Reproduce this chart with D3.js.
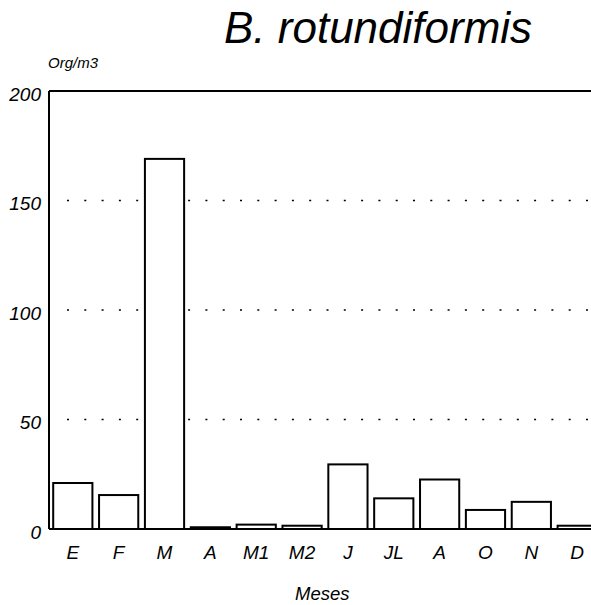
<!DOCTYPE html>
<html><head><meta charset="utf-8">
<script src="https://cdn.jsdelivr.net/npm/d3@7"></script>
<style>
html,body{margin:0;padding:0;background:#fff;}
svg{display:block;}
text{font-family:"Liberation Sans",Arial,sans-serif;font-style:italic;fill:#000;}
</style></head>
<body>
<script>
const categories = ["E","F","M","A","M1","M2","J","JL","A ","O","N","D"];
const values = [21,15.5,169,0.8,2,1.5,29.5,14,22.6,8.7,12.4,1.5];
const yTicks = [0,50,100,150,200];
const gridValues = [50,100,150];
const title = "B. rotundiformis";
const yLabel = "Org/m3";
const xLabel = "Meses";

const W = 591, H = 605;
const svg = d3.select("body").append("svg").attr("width", W).attr("height", H);

const x = d3.scaleBand().domain(categories).range([50, 600]).paddingInner(0.145).paddingOuter(0.07);
const y = d3.scaleLinear().domain([0,200]).range([529, 91]);

// grid (dotted)
svg.append("g").selectAll("line").data(gridValues).join("line")
  .attr("x1", 67).attr("x2", W)
  .attr("y1", d=>y(d)).attr("y2", d=>y(d))
  .attr("stroke", "#000").attr("stroke-width", 1.6)
  .attr("stroke-dasharray", "2,15.3");

// bars
svg.append("g").selectAll("rect").data(values).join("rect")
  .attr("x", (d,i)=>x(categories[i]))
  .attr("width", x.bandwidth())
  .attr("y", d=>y(d))
  .attr("height", d=>y(0)-y(d))
  .attr("fill", "#fff").attr("stroke", "#000").attr("stroke-width", 2);

// frame: left axis, top line, baseline
svg.append("line").attr("x1",49).attr("x2",49).attr("y1",y(200)).attr("y2",y(0)).attr("stroke","#000").attr("stroke-width",2);
svg.append("line").attr("x1",49).attr("x2",W).attr("y1",y(200)).attr("y2",y(200)).attr("stroke","#000").attr("stroke-width",2);
svg.append("line").attr("x1",49).attr("x2",W).attr("y1",y(0)).attr("y2",y(0)).attr("stroke","#000").attr("stroke-width",2);

// y axis labels
const yAxis = d3.axisLeft(y).tickValues(yTicks).tickSize(0).tickPadding(0);
const ga = svg.append("g").attr("transform","translate(41,3)").call(yAxis);
ga.select(".domain").remove();
ga.selectAll("text").attr("font-size", 19).style("font-family","'Liberation Sans',Arial,sans-serif").style("font-style","italic");

// x axis labels
const xAxis = d3.axisBottom(x).tickSize(0).tickPadding(0).tickFormat(d=>d.trim());
const gx = svg.append("g").attr("transform","translate(0,545)").call(xAxis);
gx.select(".domain").remove();
gx.selectAll("text").attr("font-size", 19).attr("dy","0.72em").style("font-family","'Liberation Sans',Arial,sans-serif").style("font-style","italic");

// title and labels
svg.append("text").attr("x", 224).attr("y", 43).attr("font-size", 44).text(title);
svg.append("text").attr("x", 48).attr("y", 68).attr("font-size", 15).text(yLabel);
svg.append("text").attr("x", 295).attr("y", 600).attr("font-size", 18.5).text(xLabel);
</script>
</body></html>
